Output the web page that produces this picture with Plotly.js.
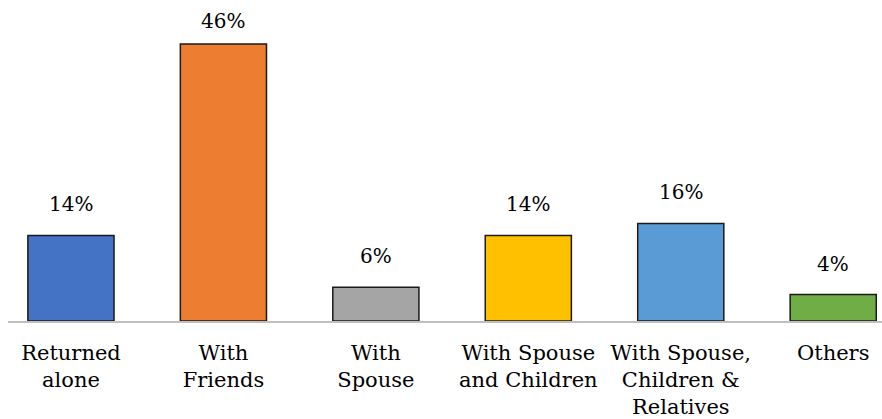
<!DOCTYPE html>
<html>
<head>
<meta charset="utf-8">
<script src="https://cdn.plot.ly/plotly-3.0.1.min.js"></script>
<style>html,body{margin:0;padding:0;background:#fff;}#chart{width:882px;height:419px;}</style>
</head>
<body>
<div id="chart"></div>
<script>
const categories = ["Returned<br>alone", "With<br>Friends", "With<br>Spouse", "With Spouse<br>and Children", "With Spouse,<br>Children &<br>Relatives", "Others"];
const values = [14.2, 46, 5.6, 14.2, 16.2, 4.4];
const labels = ["14%", "46%", "6%", "14%", "16%", "4%"];
const colors = ["#4472C4", "#ED7D31", "#A5A5A5", "#FFC000", "#5B9BD5", "#70AD47"];

const idx = categories.map((c, i) => i);
const labelFont = {family: "DejaVu Serif", size: 20, color: "#000"};
const tickFont = {family: "DejaVu Serif", size: 21, color: "#000"};
const maxVal = Math.max(...values);

const trace = {
  type: "bar",
  x: idx,
  y: values,
  width: 0.565,
  marker: {color: colors, line: {color: "#1a1a1a", width: 1.5}},
  hoverinfo: "none"
};

const annotations = idx.map(i => ({
  x: i, y: values[i], xref: "x", yref: "y",
  text: labels[i], showarrow: false,
  yanchor: "bottom", yshift: values[i] === maxVal ? 9 : 17, font: labelFont
}));

const layout = {
  width: 882, height: 419,
  margin: {l: 8, r: 0, t: 0, b: 98},
  paper_bgcolor: "#fff", plot_bgcolor: "#fff",
  showlegend: false,
  font: labelFont,
  xaxis: {
    tickmode: "array", tickvals: idx, ticktext: categories,
    range: [-0.413, 5.32],
    showline: true, linecolor: "#BFBFBF", linewidth: 1.5,
    showgrid: false, zeroline: false, ticks: "",
    ticklabelstandoff: 12,
    tickfont: tickFont, fixedrange: true
  },
  yaxis: {
    range: [0, 53.3], visible: false, showgrid: false, zeroline: false, fixedrange: true
  },
  annotations: annotations
};

Plotly.newPlot("chart", [trace], layout, {displayModeBar: false, staticPlot: true});
</script>
</body>
</html>
